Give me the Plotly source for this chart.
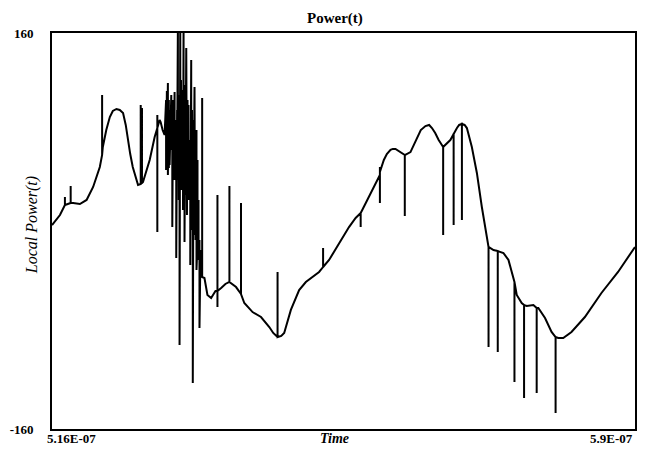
import numpy as np
import plotly.graph_objects as go

# Local power trace; repeated times mark the instantaneous spikes
time_ns = [
    516.00, 517.01, 517.64, 517.64, 517.64, 518.37, 518.37, 518.37, 518.69, 519.54,
    520.39, 521.22, 522.07, 522.36, 522.36, 522.36, 522.45, 522.89, 523.34, 523.72,
    524.18, 524.60, 525.02, 525.36, 525.61, 525.93, 526.25, 526.63, 526.92,
    527.26, 527.26, 527.26, 527.42, 527.42, 527.42, 527.55,
    528.40, 529.03, 529.37, 529.37, 529.37, 529.37, 529.66, 529.79, 530.04, 530.29,
    530.48, 530.48, 530.58, 530.58, 530.71, 530.71, 530.83, 530.83, 530.93, 530.93,
    531.14, 531.14, 531.27, 531.27, 531.37, 531.37, 531.46, 531.46, 531.56, 531.56,
    531.77, 531.77, 531.88, 531.88, 531.98, 531.98, 532.09, 532.09, 532.19, 532.19,
    532.28, 532.28, 532.37, 532.37, 532.45, 532.45, 532.57, 532.57, 532.63, 532.63,
    532.70, 532.70, 532.82, 532.82, 532.93, 532.93, 533.04, 533.04, 533.13, 533.13,
    533.20, 533.20, 533.33, 533.33, 533.39, 533.39, 533.55, 533.55, 533.67, 533.67,
    533.77, 533.77, 533.87, 533.87, 533.96, 533.96, 534.09, 534.09, 534.15, 534.15,
    534.22, 534.22, 534.34, 534.34, 534.41, 534.41, 534.47, 534.47, 534.60, 534.60,
    534.72, 534.72, 534.85, 535.06, 535.06, 535.06,
    535.35, 535.73, 536.20, 536.75, 537.00, 537.00, 537.00, 537.00,
    537.47, 538.01, 538.52, 538.52, 538.52, 539.36, 539.99, 539.99, 539.99, 540.41,
    541.46, 542.53, 543.58, 544.08, 544.63, 544.63, 544.63, 545.10, 545.47, 546.32,
    547.37, 548.22, 549.27, 549.90, 550.41, 550.41, 550.41, 551.17, 552.43, 553.70,
    554.54, 555.18, 555.18, 555.18, 555.38, 556.44, 557.62, 557.62, 557.62, 557.62,
    558.12, 558.50, 558.97, 559.26, 559.60, 560.24, 560.78, 560.78, 560.78, 561.50,
    562.34, 562.81, 563.40, 563.87, 564.23, 564.64, 565.08,
    565.65, 565.65, 565.65, 566.56, 566.98, 566.98, 566.98, 567.40, 567.68,
    568.03, 568.03, 568.03, 568.37, 568.66, 569.29, 569.93, 570.56, 571.19,
    571.41, 571.41, 571.41, 572.04, 572.58, 572.58, 572.58, 573.30, 573.94,
    574.70, 574.70, 574.70, 574.99, 575.62, 575.92, 575.92, 575.92, 576.25, 577.10,
    577.52, 577.52, 577.52, 577.73, 578.58, 579.41, 579.92, 579.92, 579.92, 580.26,
    580.89, 581.94, 583.64, 585.74, 587.85, 590.00,
]
local_power = [
    4.8, 12.9, 21.0, 27.5, 21.0, 22.6, 36.4, 22.6, 22.6, 21.8,
    25.1, 35.6, 51.7, 61.4, 109.9, 61.4, 67.9, 81.6, 92.1, 97.0,
    98.6, 97.8, 95.4, 85.7, 73.5, 62.2, 51.7, 42.8, 37.2,
    38.0, 101.8, 38.0, 38.8, 99.4, 38.8, 39.6,
    57.4, 76.0, 83.2, -0.8, 93.7, 83.2, 89.7, 88.1, 81.6, 77.6,
    105.9, 49.3, 113.1, 57.4, 119.6, 45.3, 105.9, 50.9, 97.8, 53.3,
    109.9, 65.5, 73.5, 3.2, 105.9, 57.4, 101.8, 49.3, 112.3, 41.2,
    89.7, -21.8, 97.8, 57.4, 168.0, 41.2, 109.9, 25.1, 89.7, -92.1,
    170.0, 49.3, 122.0, 37.2, 105.9, 33.1, 89.7, 53.3, 113.9, 17.0,
    166.0, 25.1, 97.8, -8.9, 118.0, 29.1, 147.9, 45.3, 109.9, 12.9,
    105.9, 25.1, 101.8, 25.1, 89.7, 41.2, 73.5, -27.5, 138.2, 33.1,
    97.8, 0.8, 65.5, -122.8, 89.7, 17.0, 116.4, 8.9, 89.7, -3.2,
    65.5, -7.3, 81.6, -31.5, 73.5, -19.4, 57.4, -15.4, 25.1, -23.4,
    -7.3, -78.4, -15.4, -37.2, 107.5, -37.2,
    -38.0, -51.7, -54.1, -48.5, -48.5, 29.1, -61.4, -48.5,
    -46.1, -42.8, -41.2, 36.4, -41.2, -45.3, -50.9, 22.6, -50.9, -58.2,
    -65.5, -69.5, -77.6, -82.4, -85.7, -33.1, -85.7, -84.8, -82.4, -63.8,
    -47.7, -41.2, -36.4, -33.1, -29.1, -13.7, -29.1, -23.4, -9.7, 3.2,
    10.5, 14.5, 3.2, 14.5, 17.0, 30.7, 45.3, 51.7, 22.6, 47.7,
    57.4, 62.2, 65.5, 66.3, 66.3, 63.8, 61.4, 12.1, 61.4, 63.8,
    76.0, 81.6, 84.8, 85.7, 83.2, 79.2, 73.5,
    67.9, -3.2, 67.9, 73.5, 78.4, 4.8, 78.4, 83.2, 85.7,
    86.5, 8.9, 86.5, 85.7, 83.2, 67.9, 46.9, 19.4, -4.8,
    -12.9, -93.7, -12.9, -15.4, -16.2, -97.8, -16.2, -17.8, -23.4,
    -41.2, -122.0, -41.2, -51.7, -58.2, -59.8, -135.0, -59.8, -60.6, -59.8,
    -62.2, -130.9, -62.2, -62.2, -70.3, -81.6, -85.7, -147.1, -85.7, -86.5,
    -86.5, -81.6, -69.5, -50.1, -33.1, -12.9,
]

x_range_ns = [516, 590]
x_tick_vals_ns = [516, 590]
x_tick_text = ["5.16E-07", "5.9E-07"]
y_tick_vals = [-160, 160]
y_tick_text = ["-160", "160"]

serif = "Liberation Serif, Times New Roman, serif"

fig = go.Figure()
fig.add_trace(go.Scatter(
    x=np.array(time_ns) * 1e-9,
    y=local_power,
    mode="lines",
    line=dict(color="black", width=2),
    hoverinfo="skip",
))

fig.update_layout(
    width=645, height=456,
    margin=dict(l=52, r=8, t=33, b=27),
    paper_bgcolor="white", plot_bgcolor="white",
    showlegend=False,
    xaxis=dict(
        range=[v * 1e-9 for v in x_range_ns],
        showgrid=False, zeroline=False, showticklabels=False, ticks="",
        showline=True, mirror=True, linecolor="black", linewidth=1.6,
    ),
    yaxis=dict(
        range=[-160, 160],
        tickvals=y_tick_vals, ticktext=y_tick_text,
        tickfont=dict(family=serif, size=13, color="black", weight="bold"),
        ticks="", ticklabelstandoff=14,
        showgrid=False, zeroline=False,
        showline=True, mirror=True, linecolor="black", linewidth=1.6,
    ),
)

# Title
fig.add_annotation(
    text="Power(t)", xref="paper", yref="paper", x=0.485, y=1,
    yshift=4, xanchor="center", yanchor="bottom", showarrow=False,
    font=dict(family=serif, size=15, color="black", weight="bold"),
)
# Axis titles
fig.add_annotation(
    text="Local Power(t)", xref="paper", yref="paper", x=-0.034, y=0.515,
    xanchor="center", yanchor="middle", textangle=-90, showarrow=False,
    font=dict(family=serif, size=16, color="black", style="italic"),
)
fig.add_annotation(
    text="Time", xref="paper", yref="paper", x=0.485, y=0,
    xanchor="center", yanchor="top", yshift=0, showarrow=False,
    font=dict(family=serif, size=14, color="black", style="italic", weight="bold"),
)
# End labels of the time axis
for val, txt, anchor, shift in zip(x_tick_vals_ns, x_tick_text, ["left", "right"], [-7, 0]):
    fig.add_annotation(
        text=txt, xref="x", yref="paper", x=val * 1e-9, y=0,
        xanchor=anchor, yanchor="top", xshift=shift, yshift=0, showarrow=False,
        font=dict(family=serif, size=13, color="black", weight="bold"),
    )

fig.write_html("out.html")
